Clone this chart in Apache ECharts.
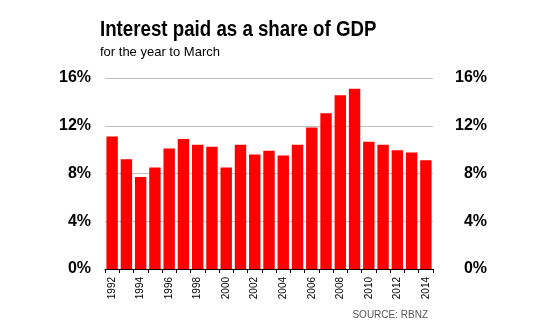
<!DOCTYPE html>
<html>
<head>
<meta charset="utf-8">
<script src="https://cdn.jsdelivr.net/npm/echarts@6/dist/echarts.min.js"></script>
<style>html,body{margin:0;padding:0;background:#fff;}#c{width:550px;height:325px;}</style>
</head>
<body>
<div id="c"></div>
<script>
const years = ['1992','1993','1994','1995','1996','1997','1998','1999','2000','2001','2002','2003','2004','2005','2006','2007','2008','2009','2010','2011','2012','2013','2014'];
const interestShare = [11.1,9.2,7.7,8.5,10.1,10.9,10.4,10.25,8.5,10.4,9.6,9.9,9.5,10.4,11.85,13.05,14.55,15.1,10.65,10.4,9.95,9.75,9.1];
const yTicks = [0,4,8,12,16];

const chart = echarts.init(document.getElementById('c'), null, {renderer:'canvas'});
const font = 'Arial, "Liberation Sans", sans-serif';
const yCommon = {
  type:'value', min:yTicks[0], max:yTicks[yTicks.length-1], interval:4,
  axisLine:{show:false}, axisTick:{show:false},
  axisLabel:{formatter:'{value}%', fontSize:16, fontWeight:'bold', color:'#000', fontFamily:font}
};
chart.setOption({
  animation:false,
  backgroundColor:'#fff',
  title:[
    {text:'for the year to March', left:100, top:46, padding:0,
     textStyle:{fontFamily:font, fontSize:13, fontWeight:'normal', color:'#000'}},
    {text:'SOURCE: RBNZ', right:122, top:310, padding:0,
     textStyle:{fontFamily:font, fontSize:10, fontWeight:'normal', color:'#555'}}
  ],
  graphic:[{
    type:'text', x:100, y:19, scaleX:0.85, scaleY:1,
    style:{text:'Interest paid as a share of GDP', fontFamily:font, fontSize:22, fontWeight:'bold',
      fill:'#000', textAlign:'left', textVerticalAlign:'top'}
  }],
  grid:{left:105, right:117, top:78, bottom:56, containLabel:false},
  xAxis:{
    type:'category', data:years,
    axisLine:{lineStyle:{color:'#000', width:1}},
    axisTick:{show:true, interval:0, length:4, lineStyle:{color:'#000'}},
    axisLabel:{interval:1, rotate:90, fontSize:10, color:'#000', fontFamily:font, margin:8}
  },
  yAxis:[
    Object.assign({}, yCommon, {position:'left',
      splitLine:{show:true, lineStyle:{color:'#c0c0c0', width:1}},
      axisLabel:Object.assign({}, yCommon.axisLabel, {margin:14})}),
    Object.assign({}, yCommon, {position:'right',
      splitLine:{show:false},
      axisLabel:Object.assign({}, yCommon.axisLabel, {margin:54, align:'right'})})
  ],
  series:[{
    type:'bar', data:interestShare, yAxisIndex:0,
    itemStyle:{color:'#ff0000'}, barCategoryGap:'20%'
  }]
});
</script>
</body>
</html>
